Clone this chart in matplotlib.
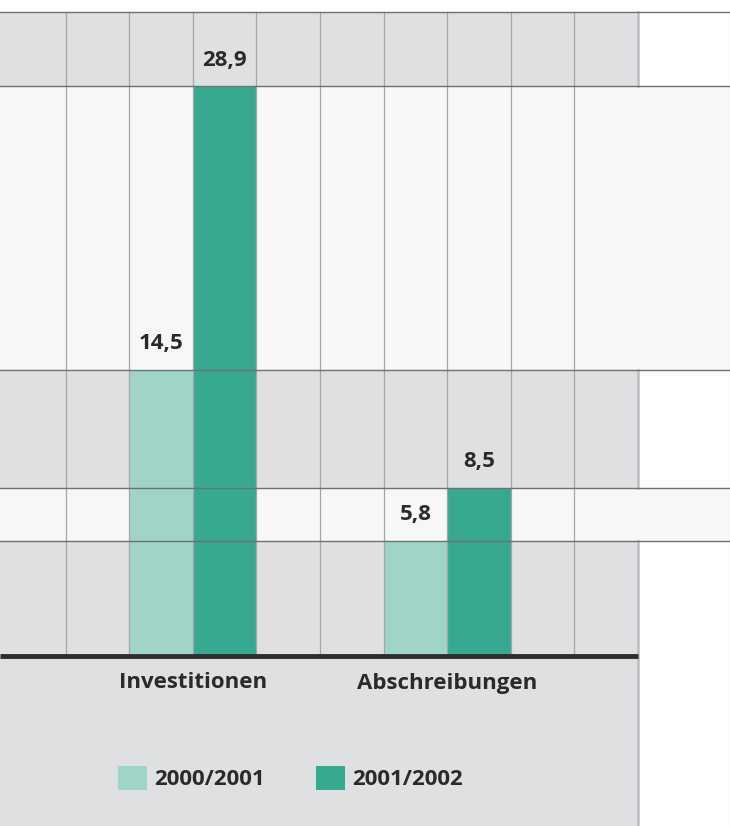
import matplotlib
matplotlib.use("Agg")
import matplotlib.pyplot as plt
from matplotlib.patches import Rectangle

# data
categories = ["Investitionen", "Abschreibungen"]
years = ["2000/2001", "2001/2002"]
values_0001 = [14.5, 5.8]
values_0102 = [28.9, 8.5]
value_labels_0001 = ["14,5", "5,8"]
value_labels_0102 = ["28,9", "8,5"]

light = "#9fd4c6"
dark = "#38a991"
band_grey = "#dfe0e2"
band_white = "#f6f7f7"
txt = "#2a2a2a"

plt.rcParams['font.family'] = ['Open Sans', 'DejaVu Sans']

fig = plt.figure(figsize=(7.3, 8.26), dpi=100)
ax = fig.add_axes([0, 0, 1, 1])
ax.set_axis_off()

# pixel -> data scale (slot width 63.6 px, 19.68 px per unit)
px_x = 63.6
px_y = 19.68
x_left = -2 / px_x
x_right = 728 / px_x
y_top = 655 / px_y
y_bottom = (655 - 826) / px_y
ax.set_xlim(x_left, x_right)
ax.set_ylim(y_bottom, y_top)

n_slots = 10
top_val = (655 - 12) / px_y

# grey panel + white bands at the bar heights
ax.add_patch(Rectangle((x_left, 0), n_slots - x_left, top_val, color=band_grey, zorder=0, lw=0))
ax.add_patch(Rectangle((x_left, y_bottom), n_slots - x_left, -y_bottom, color=band_grey, zorder=0, lw=0))
ax.add_patch(Rectangle((x_left, values_0001[0]), x_right - x_left, values_0102[0] - values_0001[0],
                       color=band_white, zorder=0.5, lw=0))
ax.add_patch(Rectangle((x_left, values_0001[1]), x_right - x_left, values_0102[1] - values_0001[1],
                       color=band_white, zorder=0.5, lw=0))

# bars
centers = [3, 7]
ax.bar([c - 0.5 for c in centers], values_0001, width=1.0, color=light, zorder=1, label=years[0])
ax.bar([c + 0.5 for c in centers], values_0102, width=1.0, color=dark, zorder=1, label=years[1])

# vertical grid
for i in range(1, n_slots):
    ax.plot([i, i], [0, top_val], color="#a4a5a7", lw=0.9, zorder=2)
edge_segments = [(y_bottom, values_0001[1]), (values_0102[1], values_0001[0]), (values_0102[0], top_val)]
for y0, y1 in edge_segments:
    ax.plot([n_slots, n_slots], [y0, y1], color="#bcbdc0", lw=1.8, zorder=2)
ax.plot([x_right - 0.5 / px_x] * 2, [y_bottom, top_val], color="#d6d7d9", lw=0.8, zorder=2)

# horizontal lines
for yv in [top_val] + values_0102 + values_0001:
    ax.plot([x_left, x_right], [yv, yv], color="#6f7072", lw=1.0, zorder=2)
ax.plot([x_left, n_slots], [-0.05, -0.05], color="#2e2e2e", lw=3.5, zorder=3, solid_capstyle='butt')

# value labels
off = 26 / px_y
for c, v, s in zip(centers, values_0001, value_labels_0001):
    ax.text(c - 0.5, v + off, s, ha='center', va='center', fontsize=16, fontweight='bold', color=txt, zorder=4)
for c, v, s in zip(centers, values_0102, value_labels_0102):
    ax.text(c + 0.5, v + off, s, ha='center', va='center', fontsize=16, fontweight='bold', color=txt, zorder=4)

# category labels
for c, name in zip(centers, categories):
    ax.text(c, -(683 - 655) / px_y, name, ha='center', va='center', fontsize=16,
            fontweight='bold', color=txt, zorder=4)

leg = ax.legend(loc='center left', bbox_to_anchor=(118 / 730, 1 - 778 / 826),
                bbox_transform=fig.transFigure, ncol=2, frameon=False,
                prop={'weight': 'bold', 'size': 16}, handlelength=1.3, handleheight=1.3,
                handletextpad=0.33, columnspacing=2.3, borderpad=0, borderaxespad=0)
for t in leg.get_texts():
    t.set_color(txt)

fig.savefig("out.png", dpi=100, facecolor="white")
